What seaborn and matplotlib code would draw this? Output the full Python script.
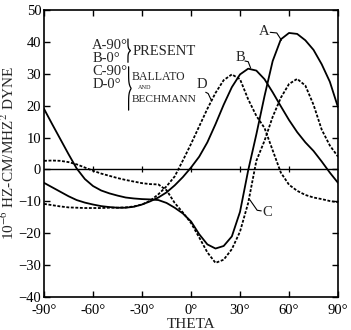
import numpy as np
import pandas as pd
import matplotlib
matplotlib.use("Agg")
import matplotlib.pyplot as plt
import seaborn as sns

theta = list(range(-90, 95, 5))

curve_a = [19.0, 14.2, 9.5, 4.8, 0.3, -3.0, -5.2, -6.6, -7.5, -8.2, -8.8, -9.1, -9.3, -9.4,
           -9.6, -10.5, -12.0, -13.8, -16.3, -20.3, -23.5, -24.8, -24.0, -21.0, -13.3, -0.3,
           11.0, 23.0, 34.0, 40.8, 42.8, 42.5, 40.5, 37.5, 33.0, 27.5, 19.5]
curve_b = [-4.2, -5.6, -7.0, -8.4, -9.6, -10.4, -11.0, -11.5, -11.8, -12.0, -12.0, -11.7, -11.0,
           -10.0, -8.8, -7.2, -5.0, -2.4, 0.6, 4.0, 8.5, 14.2, 20.3, 25.8, 29.8, 31.6, 31.0,
           28.3, 24.2, 19.8, 15.5, 11.7, 8.5, 5.8, 2.5, -1.0, -4.2]
curve_c = [2.7, 2.8, 2.7, 2.3, 1.6, 0.6, -0.4, -1.3, -2.0, -2.7, -3.3, -3.8, -4.3, -4.6, -4.7,
           -6.5, -10.5, -13.5, -16.8, -21.3, -26.0, -29.3, -28.3, -25.0, -19.5, -10.5, 2.7,
           9.0, 16.5, 22.5, 26.8, 28.4, 26.3, 20.3, 12.5, 7.5, 4.0]
curve_d = [-10.8, -11.2, -11.6, -11.9, -12.0, -12.1, -12.1, -12.1, -12.0, -12.0, -11.9, -11.6,
           -11.0, -9.8, -7.8, -5.3, -2.2, 2.8, 8.0, 13.5, 19.0, 24.0, 28.0, 29.8, 28.3, 22.0,
           16.8, 13.0, 6.0, -1.0, -4.8, -6.7, -8.0, -8.8, -9.3, -9.9, -10.3]

curve_names = ["A", "B", "C", "D"]
xtick_vals = [-90, -60, -30, 0, 30, 60, 90]
xtick_labels = ["-90°", "-60°", "-30°", "0°", "30°", "60°", "90°"]
ytick_vals = [-40, -30, -20, -10, 0, 10, 20, 30, 40, 50]
legend_rows = ["A-90°", "B-0°", "C-90°", "D-0°"]

df = pd.concat([
    pd.DataFrame({"theta": theta, "value": vals, "curve": name})
    for name, vals in zip(curve_names, [curve_a, curve_b, curve_c, curve_d])
])

sns.set_theme(style="ticks")
plt.rcParams["font.family"] = ["Liberation Serif", "DejaVu Serif"]
plt.rcParams["mathtext.fontset"] = "stix"

fig = plt.figure(figsize=(3.51, 3.30), dpi=100)
ax = fig.add_axes([0.1254, 0.10, 0.8376, 0.8697])

sns.lineplot(data=df, x="theta", y="value", hue="curve", style="curve",
             palette={n: "black" for n in curve_names},
             dashes={"A": "", "B": "", "C": (1.6, 0.9), "D": (1.6, 0.9)},
             linewidth=1.3, legend=False, ax=ax, sort=True)

ax.axhline(0, color="black", lw=1.0, zorder=1)
ax.plot([-60, -30, 0, 30, 60], [0, 0, 0, 0, 0], linestyle="none", marker="|",
        color="black", ms=5, mew=0.9)

ax.set_xlim(-90, 90)
ax.set_ylim(-40, 50)
ax.set_xticks(xtick_vals)
ax.set_xticklabels(xtick_labels)
ax.set_yticks(ytick_vals)
ax.tick_params(direction="in", length=4, width=1, labelsize=10.5, colors="black",
               top=True, right=True)
ax.tick_params(axis="x", pad=5)
ax.tick_params(axis="y", pad=2)
for s in ax.spines.values():
    s.set_linewidth(1.2)
    s.set_color("black")

ax.set_xlabel("THETA", fontsize=11, labelpad=1)
ax.set_ylabel(r"10$^{-6}$ HZ-CM/MHZ$^{2}$ DYNE", fontsize=11, labelpad=1)

# legend text block
for lbl, yv in zip(legend_rows, [38.9, 34.8, 30.7, 26.6]):
    ax.text(-60.5, yv, lbl, fontsize=10.5, va="center", ha="left")
ax.text(-35.8, 36.9, "PRESENT", fontsize=10.5, va="center", ha="left")
ax.text(-36.4, 29.0, "BALLATO", fontsize=8.5, va="center", ha="left")
ax.text(-28.5, 25.6, "AND", fontsize=4.5, va="center", ha="center")
ax.text(-36.4, 21.9, "BECHMANN", fontsize=8.2, va="center", ha="left")


def brace(x, y0, y1, w):
    t = np.linspace(0, 1, 60)
    ym = (y0 + y1) / 2
    ys = y0 + (y1 - y0) * t
    d = np.abs(ys - ym) / (abs(y1 - y0) / 2)
    xs = x + w * (1 - d) ** 6
    ax.plot(xs, ys, color="black", lw=0.9)


brace(-38.6, 40.9, 33.6, 1.6)
brace(-38.2, 32.2, 18.6, 1.6)

# curve labels with leaders
ax.text(45.0, 43.2, "A", fontsize=10.5, ha="center", va="center")
ax.plot([48.5, 52.5, 55.4], [43.0, 42.8, 40.5], color="black", lw=0.8)
ax.text(30.3, 35.0, "B", fontsize=10.5, ha="center", va="center")
ax.plot([33.0, 35.0, 36.5], [34.0, 33.8, 31.8], color="black", lw=0.8)
ax.text(6.4, 26.6, "D", fontsize=10.5, ha="center", va="center")
ax.plot([9.0, 10.5, 12.6], [24.2, 23.8, 21.5], color="black", lw=0.8)
ax.text(46.8, -13.4, "C", fontsize=10.5, ha="center", va="center")
ax.plot([43.0, 40.5, 36.0], [-13.0, -12.8, -9.5], color="black", lw=0.8)

fig.savefig("out.png", dpi=100)
